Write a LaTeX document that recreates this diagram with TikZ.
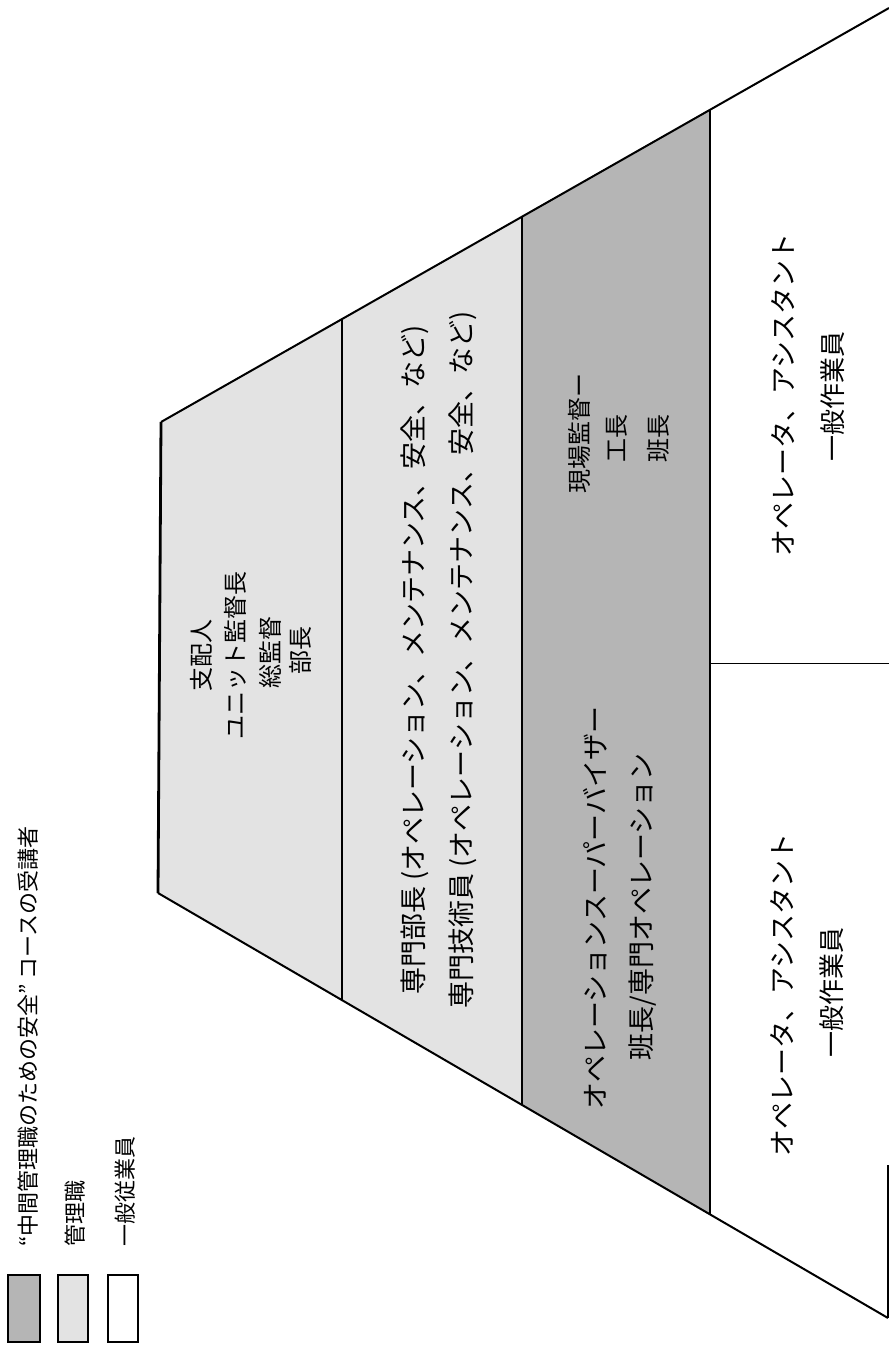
\documentclass[tikz,border=0pt]{standalone}
\usepackage{fontspec}
\newfontfamily\jp{Noto Sans CJK JP}
\begin{document}
\begin{tikzpicture}[x=1pt,y=-1pt]
\tikzset{
  lightfill/.style={fill=gray!22},
  darkfill/.style={fill=gray!58},
  edge/.style={draw=black, line width=2pt},
  divline/.style={draw=black, line width=2.8pt},
  thinline/.style={draw=black, line width=0.9pt},
  vtext/.style={rotate=90, inner sep=0pt, align=center},
  fa/.style={font=\jp\fontsize{24}{28}\selectfont},
  fb/.style={font=\jp\fontsize{27}{30}\selectfont},
  fc/.style={font=\jp\fontsize{26}{30}\selectfont},
  fl/.style={font=\jp\fontsize{22}{26}\selectfont},
  legtext/.style={rotate=90, inner sep=0pt, anchor=west},
  legbox/.style={draw=black, line width=1.6pt}
}
\useasboundingbox (0,0) rectangle (889,1347);
\fill[white] (0,0) rectangle (889,1347);
% corner points
\coordinate (t0) at (161,422);
\coordinate (t1) at (342,319);
\coordinate (t2) at (522,216);
\coordinate (t3) at (710,109);
\coordinate (t4) at (889,8);
\coordinate (b0) at (158,893);
\coordinate (b1) at (342,1000);
\coordinate (b2) at (522,1105);
\coordinate (b3) at (710,1214);
\coordinate (b4) at (888,1318);
\coordinate (r1) at (888,1165);
\coordinate (m3) at (710,663);
\coordinate (m4) at (889,663);
% fills
\fill[lightfill] (t0) -- (t2) -- (b2) -- (b0) -- cycle;
\fill[darkfill] (t2) -- (t3) -- (b3) -- (b2) -- cycle;
% outline
\draw[edge] (t0) -- (t4);
\draw[edge] (b0) -- (b4);
\draw[edge] (b4) -- (r1);
\draw[divline] (t0) -- (b0);
\draw[divline] (t1) -- (b1);
\draw[divline] (t2) -- (b2);
\draw[divline] (t3) -- (b3);
\draw[thinline] (m3) -- (m4);
% band 1
\node[vtext, fa] (n1) at (201,655) {支配人};
\node[vtext, fa] (n2) at (235,655) {ユニット監督長};
\node[vtext, fa] (n3) at (270,652) {総監督};
\node[vtext, fa] (n4) at (300,650) {部長};
% band 2
\node[vtext, fb] (s1) at (415,660) {専門部長\hspace{6pt}(オペレーション、メンテナンス、安全、など)};
\node[vtext, fb] (s2) at (463,660) {専門技術員\hspace{6pt}(オペレーション、メンテナンス、安全、など)};
% band 3
\node[vtext, fb] (o1) at (595,908) {オペレーションスーパーバイザー};
\node[vtext, fb] (o2) at (643,907) {班長/専門オペレーション};
\node[vtext, fa] (g1) at (579,433) {現場監督ー};
\node[vtext, fa] (g2) at (617,438) {工長};
\node[vtext, fa] (g3) at (658,438) {班長};
% white band
\node[vtext, fb] (w1) at (782,995) {オペレータ、アシスタント};
\node[vtext, fc] (w2) at (832,992) {一般作業員};
\node[vtext, fb] (w3) at (783,395) {オペレータ、アシスタント};
\node[vtext, fc] (w4) at (833,396) {一般作業員};
% legend
\draw[legbox, darkfill] (8,1275) rectangle (40,1342);
\draw[legbox, lightfill] (58,1275) rectangle (88,1342);
\draw[legbox, fill=white] (108,1275) rectangle (138,1342);
\node[legtext, fl] (l1) at (28,1247) {“中間管理職のための安全” コースの受講者};
\node[legtext, fl] (l2) at (75,1247) {管理職};
\node[legtext, fl] (l3) at (125,1247) {一般従業員};
\end{tikzpicture}
\end{document}
